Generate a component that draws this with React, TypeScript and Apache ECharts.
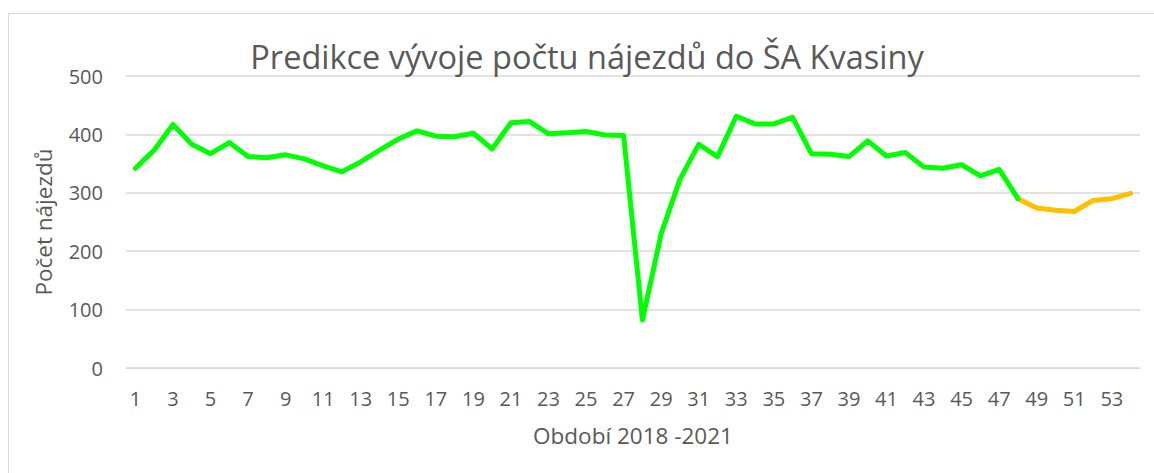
import React, { useEffect, useRef } from "react";
import * as echarts from "echarts";

const categories: string[] = Array.from({ length: 54 }, (_, i) => String(i + 1));
const actualValues: (number | null)[] = [
  342, 373, 417, 383, 367, 386, 362, 360, 365, 358, 346, 336, 353, 373, 392, 406,
  397, 396, 402, 375, 420, 422, 401, 403, 405, 399, 398, 82, 230, 323, 383, 362,
  431, 418, 418, 429, 367, 366, 362, 389, 363, 369, 344, 342, 348, 329, 340, 290,
];
const predictedValues: number[] = [290, 274, 270, 268, 287, 290, 299];
const yTicks = { min: 0, max: 500, interval: 100 };

const TEXT = "#595959";
const GRID = "#d9d9d9";
const FONT = "'Open Sans', sans-serif";

export default function App() {
  const ref = useRef<HTMLDivElement>(null);
  useEffect(() => {
    if (!ref.current) return;
    const chart = echarts.init(ref.current, null, { renderer: "svg" });
    const greenData = categories.map((_, i) => (i < actualValues.length ? actualValues[i] : null));
    const startPred = actualValues.length - 1;
    const orangeData = categories.map((_, i) =>
      i >= startPred && i - startPred < predictedValues.length ? predictedValues[i - startPred] : null
    );
    chart.setOption({
      animation: false,
      backgroundColor: "#ffffff",
      textStyle: { fontFamily: FONT },
      title: {
        text: "Predikce vývoje počtu nájezdů do ŠA Kvasiny",
        left: 582,
        textAlign: "center",
        top: 35,
        textStyle: { color: TEXT, fontSize: 32.5, fontWeight: "normal", fontFamily: FONT },
      },
      graphic: [
        {
          type: "rect",
          shape: { x: 8.5, y: 13.5, width: 1200, height: 500 },
          style: { fill: "none", stroke: GRID, lineWidth: 1 },
          silent: true,
        },
      ],
      grid: { left: 126, right: 14, top: 76, bottom: 105, containLabel: false },
      xAxis: {
        type: "category",
        data: categories,
        boundaryGap: true,
        name: "Období 2018 -2021",
        nameLocation: "middle",
        nameGap: 56,
        nameTextStyle: { color: TEXT, fontSize: 22.5, fontFamily: FONT },
        axisLine: { show: true, lineStyle: { color: GRID, width: 1 } },
        axisTick: { show: false },
        axisLabel: { interval: 1, color: TEXT, fontSize: 20, margin: 20, fontFamily: FONT },
        splitLine: { show: false },
      },
      yAxis: {
        type: "value",
        min: yTicks.min,
        max: yTicks.max,
        interval: yTicks.interval,
        name: "Počet nájezdů",
        nameLocation: "middle",
        nameRotate: 90,
        nameGap: 71,
        nameTextStyle: { color: TEXT, fontSize: 22.5, fontFamily: FONT },
        axisLine: { show: false },
        axisTick: { show: false },
        axisLabel: { color: TEXT, fontSize: 20, margin: 23, fontFamily: FONT },
        splitLine: { show: true, lineStyle: { color: GRID, width: 1.5 } },
      },
      series: [
        {
          name: "Skutečnost",
          type: "line",
          data: greenData,
          showSymbol: false,
          symbol: "none",
          lineStyle: { color: "#00ff00", width: 5, cap: "round", join: "round" },
          itemStyle: { color: "#00ff00" },
          z: 3,
        },
        {
          name: "Predikce",
          type: "line",
          data: orangeData,
          showSymbol: false,
          symbol: "none",
          lineStyle: { color: "#ffc000", width: 5, cap: "round", join: "round" },
          itemStyle: { color: "#ffc000" },
          z: 2,
        },
      ],
    });
    return () => chart.dispose();
  }, []);
  return (
    <div
      ref={ref}
      style={{ position: "fixed", left: 0, top: 0, width: 1154, height: 473, background: "#fff" }}
    />
  );
}
